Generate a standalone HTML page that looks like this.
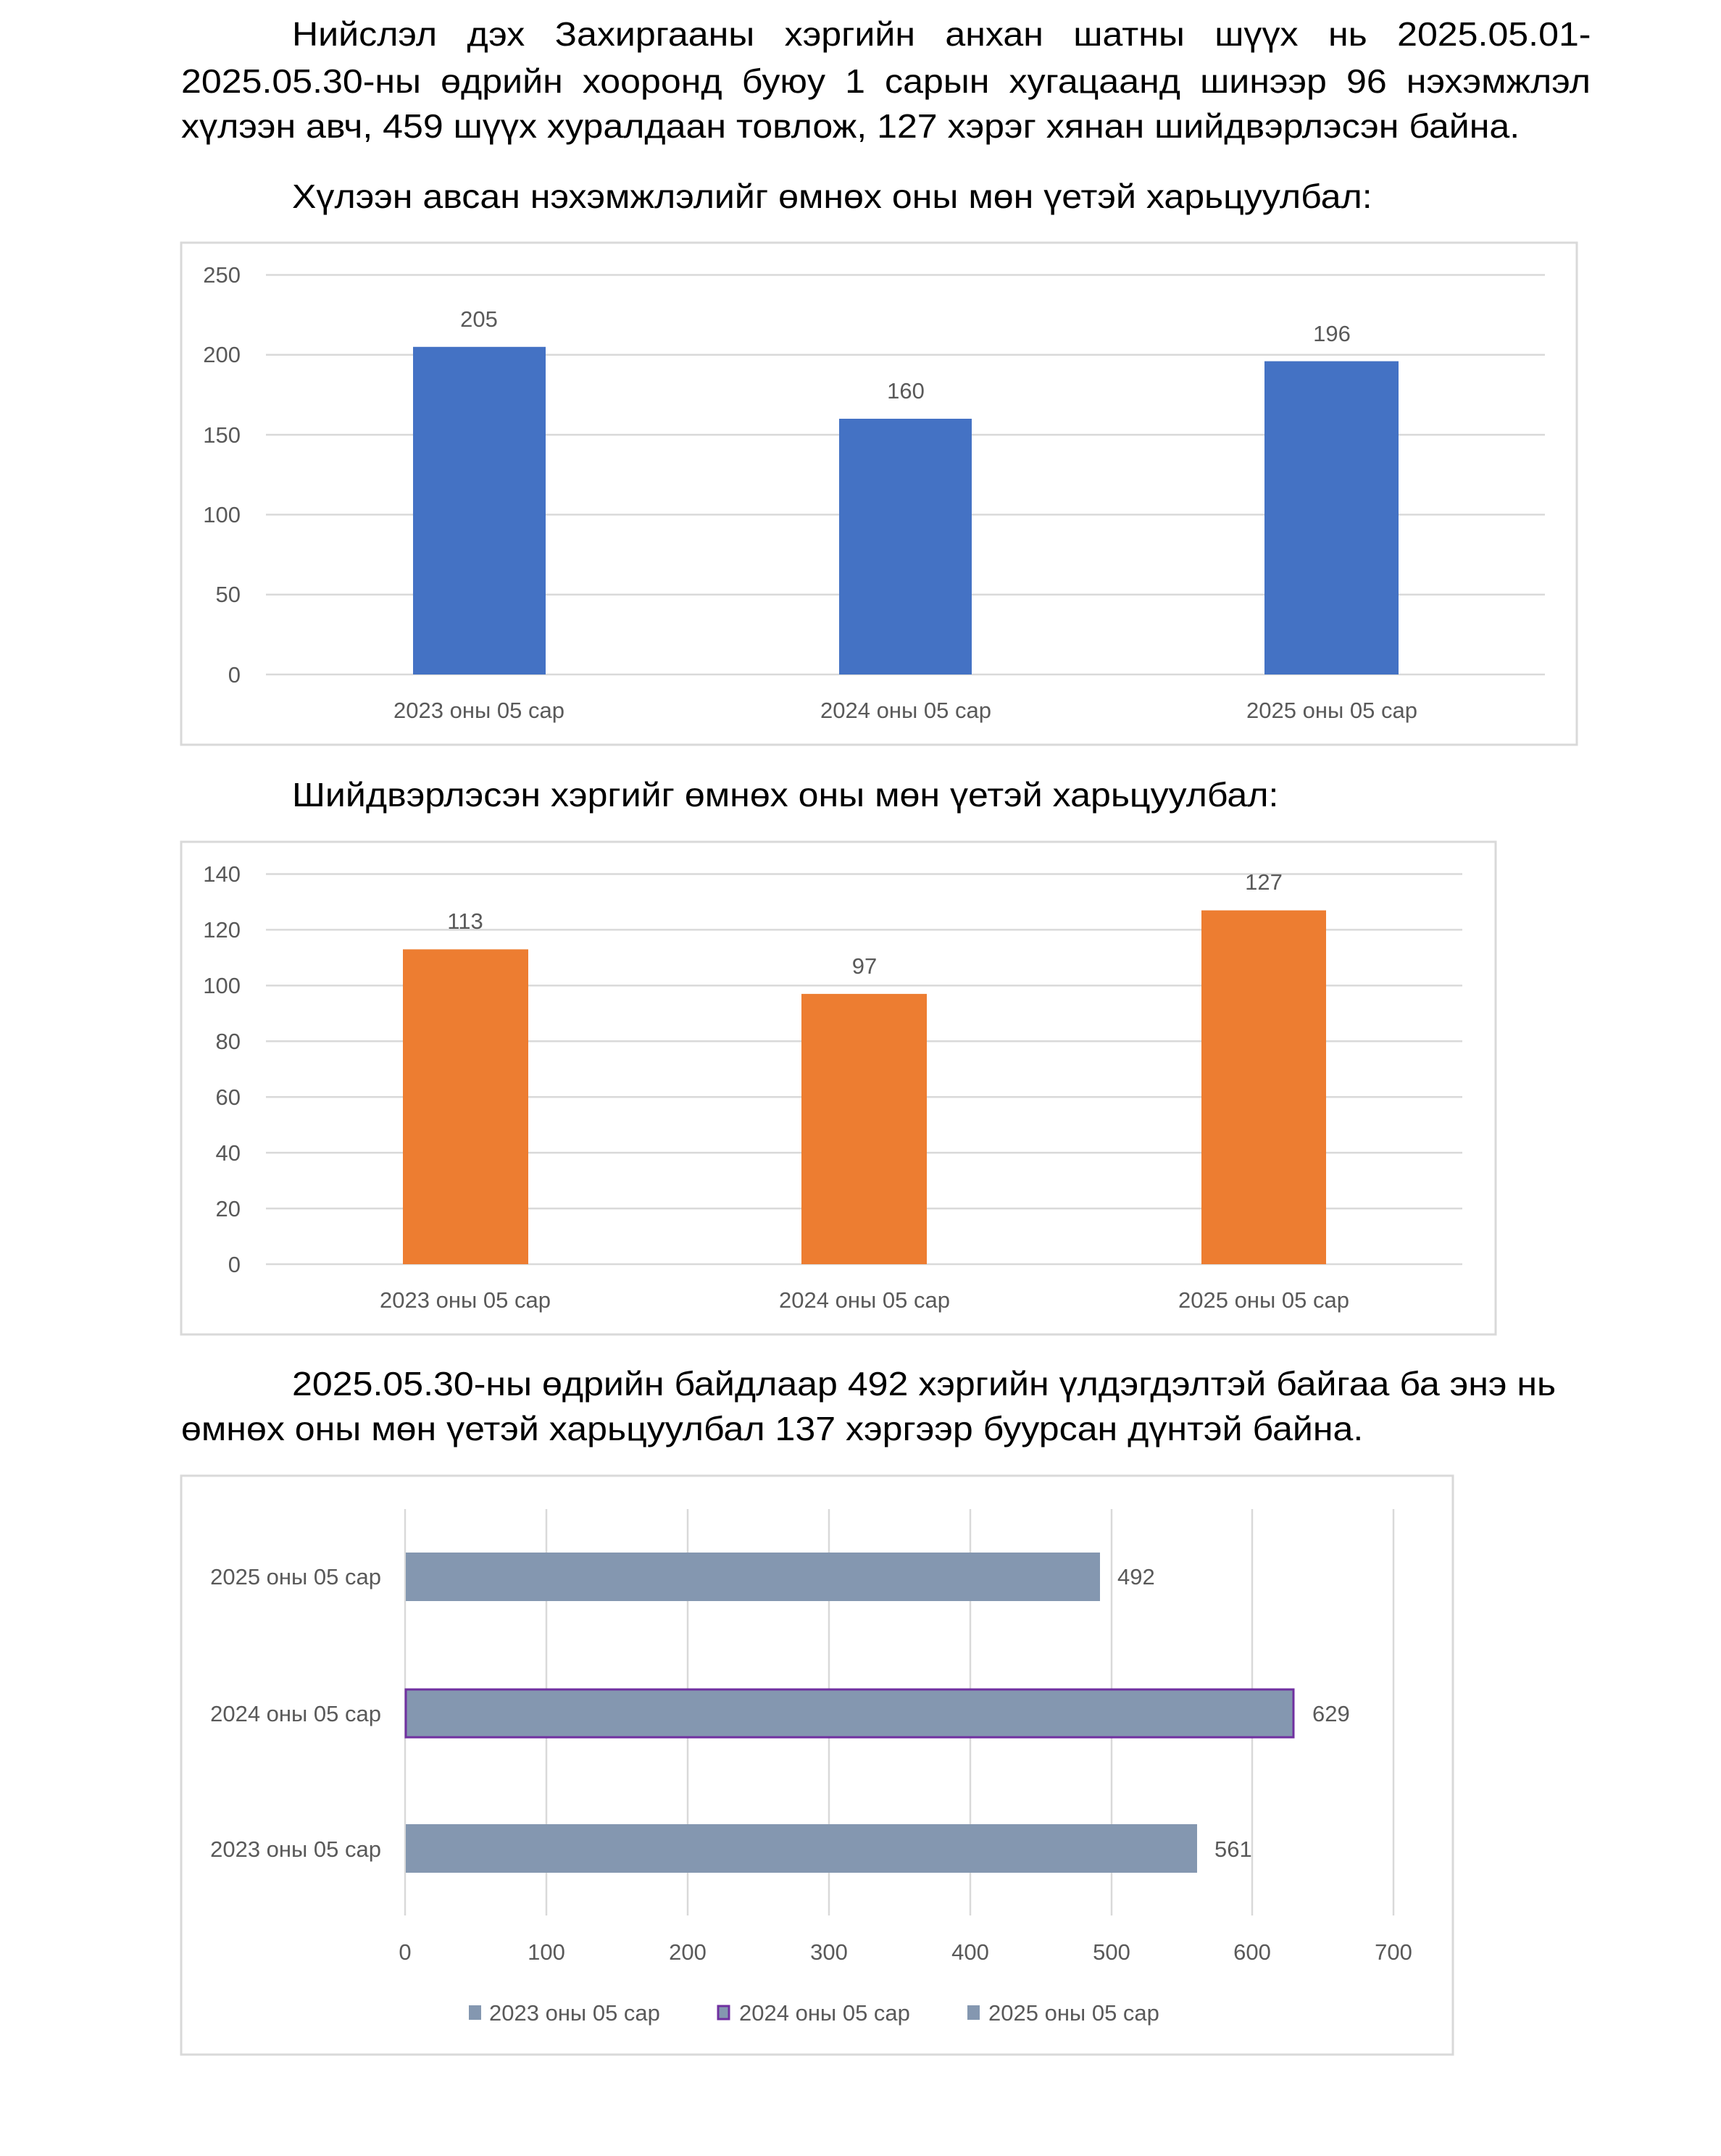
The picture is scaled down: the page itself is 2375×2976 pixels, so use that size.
<!DOCTYPE html>
<html><head><meta charset="utf-8"><style>
html,body{margin:0;padding:0;background:#fff}
.t{position:absolute;font-family:"Liberation Sans",Arial,sans-serif;font-size:46px;line-height:46px;color:#000;white-space:nowrap;transform:scaleX(1.089);transform-origin:0 0}
.j{text-align:justify;text-align-last:justify}
svg{position:absolute;left:0;top:0}
.a{font-family:"Liberation Sans",Arial,sans-serif;font-size:31px;fill:#595959}
</style></head><body>
<div style="position:relative;width:2375px;height:2976px;overflow:hidden">
<svg width="2375" height="2976" viewBox="0 0 2375 2976" xmlns="http://www.w3.org/2000/svg">
<!-- Chart 1 -->
<rect x="250" y="335" width="1926" height="693" fill="#fff" stroke="#d9d9d9" stroke-width="3"/>
<g stroke="#d9d9d9" stroke-width="2.5">
<line x1="367" y1="379.5" x2="2132" y2="379.5"/><line x1="367" y1="489.8" x2="2132" y2="489.8"/>
<line x1="367" y1="600.1" x2="2132" y2="600.1"/><line x1="367" y1="710.4" x2="2132" y2="710.4"/>
<line x1="367" y1="820.7" x2="2132" y2="820.7"/><line x1="367" y1="931" x2="2132" y2="931"/>
</g>
<g class="a" text-anchor="end">
<text x="332" y="390">250</text><text x="332" y="500">200</text><text x="332" y="611">150</text>
<text x="332" y="721">100</text><text x="332" y="831">50</text><text x="332" y="942">0</text>
</g>
<rect x="570" y="478.8" width="183" height="452.2" fill="#4472C4"/>
<rect x="1158" y="578" width="183" height="353" fill="#4472C4"/>
<rect x="1745" y="498.6" width="185" height="432.4" fill="#4472C4"/>
<g class="a" text-anchor="middle">
<text x="661" y="451">205</text><text x="1250" y="550">160</text><text x="1838" y="471">196</text>
<text x="661" y="991">2023 оны 05 сар</text><text x="1250" y="991">2024 оны 05 сар</text><text x="1838" y="991">2025 оны 05 сар</text>
</g>

<!-- Chart 2 -->
<rect x="250" y="1162" width="1814" height="680" fill="#fff" stroke="#d9d9d9" stroke-width="3"/>
<g stroke="#d9d9d9" stroke-width="2.5">
<line x1="367" y1="1206.5" x2="2018" y2="1206.5"/><line x1="367" y1="1283.4" x2="2018" y2="1283.4"/>
<line x1="367" y1="1360.4" x2="2018" y2="1360.4"/><line x1="367" y1="1437.3" x2="2018" y2="1437.3"/>
<line x1="367" y1="1514.2" x2="2018" y2="1514.2"/><line x1="367" y1="1591.1" x2="2018" y2="1591.1"/>
<line x1="367" y1="1668.1" x2="2018" y2="1668.1"/><line x1="367" y1="1745" x2="2018" y2="1745"/>
</g>
<g class="a" text-anchor="end">
<text x="332" y="1217">140</text><text x="332" y="1294">120</text><text x="332" y="1371">100</text>
<text x="332" y="1448">80</text><text x="332" y="1525">60</text><text x="332" y="1602">40</text>
<text x="332" y="1679">20</text><text x="332" y="1756">0</text>
</g>
<rect x="556" y="1310.4" width="173" height="434.6" fill="#ED7D31"/>
<rect x="1106" y="1371.9" width="173" height="373.1" fill="#ED7D31"/>
<rect x="1658" y="1256.6" width="172" height="488.4" fill="#ED7D31"/>
<g class="a" text-anchor="middle">
<text x="642" y="1282">113</text><text x="1193" y="1344">97</text><text x="1744" y="1228">127</text>
<text x="642" y="1805">2023 оны 05 сар</text><text x="1193" y="1805">2024 оны 05 сар</text><text x="1744" y="1805">2025 оны 05 сар</text>
</g>

<!-- Chart 3 -->
<rect x="250" y="2037" width="1755" height="799" fill="#fff" stroke="#d9d9d9" stroke-width="3"/>
<g stroke="#d9d9d9" stroke-width="2.5">
<line x1="559" y1="2083" x2="559" y2="2644"/><line x1="754" y1="2083" x2="754" y2="2644"/>
<line x1="949" y1="2083" x2="949" y2="2644"/><line x1="1144" y1="2083" x2="1144" y2="2644"/>
<line x1="1339" y1="2083" x2="1339" y2="2644"/><line x1="1534" y1="2083" x2="1534" y2="2644"/>
<line x1="1728" y1="2083" x2="1728" y2="2644"/><line x1="1923" y1="2083" x2="1923" y2="2644"/>
</g>
<rect x="560" y="2143" width="958" height="67" fill="#8497B0"/>
<rect x="560" y="2332" width="1225" height="66" fill="#8497B0" stroke="#7030A0" stroke-width="3"/>
<rect x="560" y="2518" width="1092" height="67" fill="#8497B0"/>
<g class="a">
<text x="1542" y="2187">492</text><text x="1811" y="2376">629</text><text x="1676" y="2563">561</text>
</g>
<g class="a" text-anchor="end">
<text x="526" y="2187">2025 оны 05 сар</text><text x="526" y="2376">2024 оны 05 сар</text><text x="526" y="2563">2023 оны 05 сар</text>
</g>
<g class="a" text-anchor="middle">
<text x="559" y="2705">0</text><text x="754" y="2705">100</text><text x="949" y="2705">200</text><text x="1144" y="2705">300</text>
<text x="1339" y="2705">400</text><text x="1534" y="2705">500</text><text x="1728" y="2705">600</text><text x="1923" y="2705">700</text>
</g>
<rect x="647" y="2768" width="17" height="20" fill="#8497B0"/>
<text class="a" x="675" y="2789">2023 оны 05 сар</text>
<rect x="991" y="2769" width="15" height="18" fill="#8497B0" stroke="#7030A0" stroke-width="3"/>
<text class="a" x="1020" y="2789">2024 оны 05 сар</text>
<rect x="1335" y="2768" width="17" height="20" fill="#8497B0"/>
<text class="a" x="1364" y="2789">2025 оны 05 сар</text>
</svg>

<div class="t j" style="left:403px;top:24px;width:1646px">Нийслэл дэх Захиргааны хэргийн анхан шатны шүүх нь 2025.05.01-</div>
<div class="t j" style="left:250px;top:89px;width:1786px">2025.05.30-ны өдрийн хооронд буюу 1 сарын хугацаанд шинээр 96 нэхэмжлэл</div>
<div class="t" style="left:250px;top:151px">хүлээн авч, 459 шүүх хуралдаан товлож, 127 хэрэг хянан шийдвэрлэсэн байна.</div>
<div class="t" style="left:403px;top:248px">Хүлээн авсан нэхэмжлэлийг өмнөх оны мөн үетэй харьцуулбал:</div>
<div class="t" style="left:403px;top:1074px">Шийдвэрлэсэн хэргийг өмнөх оны мөн үетэй харьцуулбал:</div>
<div class="t" style="left:403px;top:1887px">2025.05.30-ны өдрийн байдлаар 492 хэргийн үлдэгдэлтэй байгаа ба энэ нь</div>
<div class="t" style="left:250px;top:1949px">өмнөх оны мөн үетэй харьцуулбал 137 хэргээр буурсан дүнтэй байна.</div>
</div>
</body></html>
